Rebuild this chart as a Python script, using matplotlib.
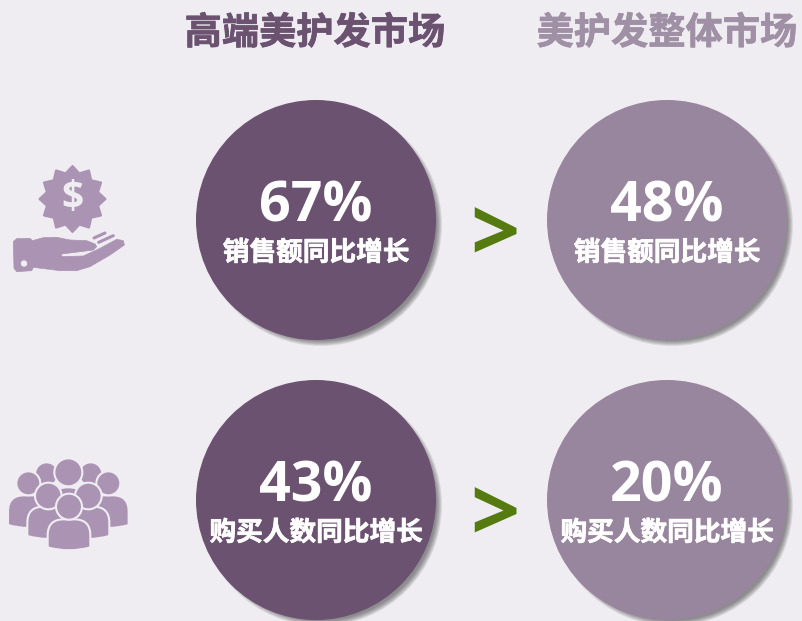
"""
Recreate the premium hair care market comparison graphic.
"""

import numpy as np
import matplotlib
matplotlib.use('Agg')
import matplotlib.pyplot as plt
import matplotlib.patheffects as pe
from matplotlib.patches import Circle, Polygon, PathPatch
from matplotlib.path import Path

plt.rcParams['font.family'] = ['Noto Sans CJK SC', 'DejaVu Sans']

# data
markets = ['高端美护发市场', '美护发整体市场']
metrics = ['销售额同比增长', '购买人数同比增长']
premium_values = [67, 43]
overall_values = [48, 20]

# colours
BG = '#EFEDF1'
DARK = '#6A5270'
LIGHT = '#98869E'
ICON = '#AB93B3'
GREEN = '#557A10'
TITLE_COLORS = ['#6A5270', '#A090A6']

COL_X = [316, 667]
ROW_Y = [220, 500]
RADIUS = 120


def heavier(color, width=0.5):
    # the source text is a little heavier than the bold face
    return [pe.withStroke(linewidth=width, foreground=color)]


def draw_bubble(ax, x, y, color, value, label):
    # soft shadow to the lower right
    for i in range(6):
        ax.add_patch(Circle((x + 5, y + 5), RADIUS + 1 - i, fc='#303030', ec='none', alpha=0.11, zorder=1))
    ax.add_patch(Circle((x, y), RADIUS, fc=color, ec='none', zorder=2))
    ax.text(x, y - 13, f'{value}%', color='white', fontsize=40, fontweight='bold',
            fontfamily=['Open Sans', 'DejaVu Sans'], ha='center', va='center', zorder=3)
    ax.text(x, y + 33, label, color='white', fontsize=19.2, fontweight='bold', ha='center', va='center',
            zorder=3, path_effects=heavier('white'))


def zoomed(points, x0, y0):
    return [(x0 + px / 3, y0 + py / 3) for px, py in points]


def draw_money_icon(ax):
    angles = np.linspace(0, 2 * np.pi, 24, endpoint=False) - np.pi / 2
    radii = np.where(np.arange(24) % 2 == 0, 33, 26.5)
    star = np.column_stack([72.5 + radii * np.cos(angles), 199 + radii * np.sin(angles)])
    ax.add_patch(Polygon(star, fc=ICON, ec=ICON, lw=1.5, joinstyle='round'))
    ax.text(72.5, 198.5, '$', color=BG, fontsize=28, fontweight='bold',
            fontfamily=['Open Sans', 'DejaVu Sans'], ha='center', va='center')

    hand = [(40, 275), (50, 266), (90, 265), (97, 272), (130, 263), (170, 262), (210, 270), (260, 272),
            (285, 282), (290, 290), (280, 300), (185, 312), (185, 320), (250, 318), (300, 295), (350, 268),
            (370, 272), (373, 285), (330, 315), (270, 350), (230, 362), (180, 362), (100, 352), (95, 362),
            (50, 365), (42, 355)]
    ax.add_patch(Polygon(zoomed(hand, 0, 150), fc=ICON, ec=ICON, lw=0.5, joinstyle='round'))
    ax.add_patch(Circle((24, 263.5), 3.2, fc=BG, ec='none'))
    for finger in ([(282, 264), (315, 249)], [(296, 277), (340, 257)]):
        pts = zoomed(finger, 0, 150)
        ax.plot([pts[0][0], pts[1][0]], [pts[0][1], pts[1][1]], color=ICON, lw=2.2, solid_capstyle='round')


def draw_person(ax, head, r, cx, w, top, bottom):
    # head and rounded shoulders, outlined in background colour
    x0, y0 = 0, 450
    c = 48
    verts = [(cx - w, bottom), (cx - w, top + c), (cx - w, top), (cx - w + c, top), (cx + w - c, top),
             (cx + w, top), (cx + w, top + c), (cx + w, bottom), (cx, bottom + 18), (cx - w, bottom),
             (cx - w, bottom)]
    codes = [Path.MOVETO, Path.LINETO, Path.CURVE3, Path.CURVE3, Path.LINETO, Path.CURVE3, Path.CURVE3,
             Path.LINETO, Path.CURVE3, Path.CURVE3, Path.CLOSEPOLY]
    path = Path(zoomed(verts, x0, y0), codes)
    ax.add_patch(PathPatch(path, fc=ICON, ec=BG, lw=1.5))
    hx, hy = zoomed([head], x0, y0)[0]
    ax.add_patch(Circle((hx, hy), r / 3, fc=ICON, ec=BG, lw=1.5))


def draw_people_icon(ax):
    draw_person(ax, (140, 72), 35, 140, 50, 110, 200)
    draw_person(ax, (272, 72), 35, 272, 50, 110, 200)
    draw_person(ax, (85, 100), 36, 85, 61, 136, 225)
    draw_person(ax, (325, 100), 36, 325, 61, 136, 225)
    draw_person(ax, (205, 67), 42, 205, 50, 112, 220)
    draw_person(ax, (145, 138), 40, 145, 63, 170, 258)
    draw_person(ax, (265, 138), 40, 265, 63, 170, 258)
    draw_person(ax, (207, 170), 39, 207, 64, 208, 292)


def main():
    fig = plt.figure(figsize=(8.02, 6.21), dpi=100, facecolor=BG)
    ax = fig.add_axes([0, 0, 1, 1])
    ax.set_xlim(0, 802)
    ax.set_ylim(621, 0)
    ax.axis('off')

    for x, name, color in zip(COL_X, markets, TITLE_COLORS):
        ax.text(x - 1 if x == COL_X[0] else x, 33.5, name, color=color, fontsize=26.8, fontweight='bold',
                ha='center', va='center', path_effects=heavier(color))

    for i, y in enumerate(ROW_Y):
        draw_bubble(ax, COL_X[0], y, DARK, premium_values[i], metrics[i])
        draw_bubble(ax, COL_X[1], y, LIGHT, overall_values[i], metrics[i])
        ax.text(494.5, y + 19.5, '>', color=GREEN, fontsize=62, fontweight='bold',
                fontfamily=['Open Sans', 'DejaVu Sans'], ha='center', va='center')

    draw_money_icon(ax)
    draw_people_icon(ax)

    fig.savefig('out.png', dpi=100, facecolor=BG)


if __name__ == "__main__":
    main()
